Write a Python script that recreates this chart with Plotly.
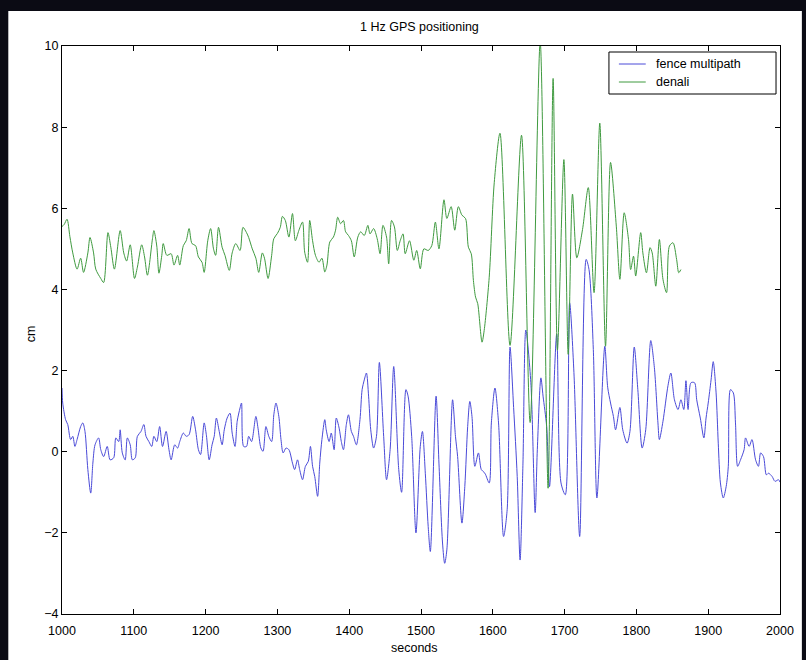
import plotly.graph_objects as go

# ---- data ----
denali_t = [1000, 1003, 1007, 1011, 1015, 1021, 1026, 1030, 1036, 1039, 1044, 1047, 1054, 1058, 1064, 1068,
            1073, 1081, 1086, 1090, 1095, 1101, 1105, 1111, 1115, 1119, 1126, 1128, 1132, 1135, 1139, 1141,
            1146, 1152, 1156, 1161, 1164, 1169, 1173, 1177, 1181, 1186, 1190, 1195, 1198, 1203, 1207, 1211,
            1214, 1218, 1223, 1227, 1233, 1237, 1242, 1248, 1252, 1257, 1260, 1265, 1270, 1274, 1279, 1282,
            1287, 1292, 1295, 1300, 1304, 1307, 1311, 1316, 1321, 1325, 1330, 1335, 1338, 1342, 1345, 1349,
            1353, 1358, 1362, 1366, 1369, 1373, 1378, 1381, 1384, 1388, 1392, 1395, 1399, 1403, 1407, 1412,
            1416, 1421, 1426, 1429, 1434, 1439, 1443, 1447, 1452, 1455, 1459, 1463, 1467, 1471, 1475, 1478,
            1484, 1490, 1494, 1499, 1504, 1510, 1515, 1520, 1525, 1532, 1536, 1542, 1547, 1552, 1557, 1562,
            1566, 1570, 1573, 1576, 1579, 1585, 1588, 1595, 1602, 1610, 1624, 1640, 1652, 1666, 1677, 1684,
            1690, 1699, 1705, 1711, 1717, 1725, 1733, 1741, 1749, 1757, 1764, 1772, 1777, 1783, 1789, 1792,
            1796, 1799, 1806, 1809, 1814, 1819, 1822, 1827, 1832, 1837, 1842, 1846, 1851, 1856, 1859, 1862]
denali_cm = [5.55, 5.6, 5.73, 5.3, 4.9, 4.5, 4.77, 4.42, 4.9, 5.28, 4.9, 4.5, 4.27, 4.17, 5.4, 5.04,
             4.5, 5.45, 4.9, 4.7, 5.1, 4.27, 4.55, 5.1, 4.8, 4.35, 5.25, 5.45, 5.07, 4.4, 4.84, 5.13,
             4.84, 4.88, 4.6, 4.84, 4.6, 5.08, 5.2, 5.5, 5.13, 5.08, 4.8, 4.67, 4.42, 5.2, 5.5, 5.0,
             4.84, 5.53, 5.04, 4.84, 4.47, 4.9, 5.13, 4.96, 5.53, 5.4, 5.28, 5.0, 4.77, 4.42, 4.9, 4.77,
             4.27, 4.84, 5.25, 5.38, 5.53, 5.8, 5.7, 5.29, 5.87, 5.2, 5.46, 5.66, 4.92, 4.67, 5.7, 5.2,
             4.84, 4.67, 4.77, 4.43, 4.6, 5.17, 5.29, 5.46, 5.78, 5.62, 5.7, 5.42, 5.33, 5.2, 4.8, 5.29,
             5.42, 5.33, 5.58, 5.37, 5.5, 5.25, 4.88, 5.58, 5.29, 4.63, 5.7, 5.54, 4.96, 5.2, 5.37, 4.88,
             5.2, 4.72, 4.96, 4.51, 5.0, 4.96, 5.08, 5.66, 5.0, 6.21, 5.75, 6.04, 5.46, 6.04, 5.83, 5.75,
             5.04, 4.88, 4.22, 3.81, 3.65, 2.7, 2.99, 4.3, 6.63, 7.85, 2.62, 7.8, 0.72, 10.1, -0.9, 9.2,
             2.5, 7.2, 2.4, 6.35, 4.78, 5.48, 6.51, 3.92, 8.1, 2.6, 7.13, 5.56, 4.25, 5.89, 5.23, 4.49,
             4.82, 4.33, 5.4, 4.9, 4.41, 5.03, 4.9, 4.08, 5.23, 4.25, 3.92, 5.07, 5.15, 4.74, 4.41, 4.49]

fence_t = [1000, 1001, 1005, 1008, 1012, 1015, 1018, 1021, 1026, 1029, 1032, 1036, 1040, 1043, 1046, 1051,
           1054, 1058, 1063, 1067, 1072, 1075, 1079, 1081, 1084, 1088, 1091, 1095, 1098, 1102, 1105, 1110,
           1114, 1117, 1121, 1125, 1128, 1132, 1136, 1140, 1145, 1149, 1152, 1157, 1161, 1164, 1169, 1173,
           1177, 1182, 1186, 1190, 1193, 1198, 1201, 1205, 1209, 1212, 1215, 1219, 1223, 1226, 1230, 1234,
           1237, 1241, 1244, 1248, 1250, 1253, 1257, 1260, 1264, 1270, 1273, 1277, 1280, 1284, 1288, 1292,
           1295, 1298, 1302, 1305, 1308, 1312, 1316, 1321, 1324, 1328, 1331, 1335, 1339, 1343, 1346, 1349,
           1352, 1356, 1359, 1362, 1366, 1368, 1372, 1375, 1379, 1382, 1386, 1389, 1392, 1396, 1399, 1403,
           1406, 1410, 1415, 1418, 1421, 1424, 1427, 1430, 1434, 1438, 1442, 1448, 1452, 1457, 1462, 1469,
           1473, 1479, 1482, 1487, 1493, 1499, 1502, 1506, 1510, 1513, 1521, 1525, 1530, 1533, 1536, 1544,
           1548, 1551, 1557, 1561, 1565, 1568, 1571, 1575, 1580, 1584, 1589, 1595, 1598, 1603, 1608, 1615,
           1620, 1624, 1629, 1634, 1638, 1642, 1646, 1653, 1659, 1662, 1667, 1670, 1675, 1679, 1689, 1695,
           1701, 1707, 1713, 1721, 1730, 1734, 1740, 1745, 1756, 1760, 1764, 1768, 1771, 1777, 1781, 1787,
           1791, 1797, 1802, 1808, 1813, 1820, 1825, 1830, 1832, 1837, 1844, 1848, 1853, 1858, 1862, 1866,
           1869, 1872, 1876, 1881, 1884, 1889, 1894, 1897, 1900, 1904, 1907, 1911, 1914, 1917, 1921, 1925,
           1928, 1931, 1935, 1938, 1941, 1945, 1950, 1952, 1957, 1961, 1966, 1970, 1973, 1977, 1981, 1984,
           1989, 1993, 1998, 2000]
fence_cm = [1.57, 1.2, 0.79, 0.67, 0.3, 0.38, 0.13, 0.3, 0.62, 0.71, 0.5, -0.44, -1.02, -0.28, 0.17, 0.34,
            0.05, -0.12, 0.13, -0.2, -0.15, 0.34, 0.25, 0.54, -0.03, -0.2, 0.34, 0.17, -0.2, -0.15, 0.38, 0.5,
            0.67, 0.38, 0.25, 0.13, 0.38, 0.25, 0.62, 0.13, 0.5, 0.05, -0.2, 0.17, 0.09, 0.25, 0.46, 0.38,
            0.42, 0.87, 0.54, 0.05, -0.07, 0.71, 0.42, -0.2, 0.17, 0.38, 0.83, 0.5, 0.17, 0.54, 0.83, 0.95,
            0.46, 0.13, 0.75, 1.08, 1.2, 0.13, 0.13, 0.38, 0.25, 0.87, 0.58, 0.09, 0.01, 0.62, 0.38, 0.25,
            0.91, 1.2, 0.87, 0.3, -0.03, 0.09, 0.05, -0.28, -0.44, -0.2, -0.44, -0.69, -0.36, -0.24, 0.13, -0.36,
            -0.61, -1.1, -0.28, 0.3, 0.79, 0.54, 0.25, 0.46, 0.05, 0.83, 0.58, 0.25, 0.05, 0.67, 0.91, 0.5,
            0.38, 0.17, 0.79, 1.53, 1.77, 1.94, 1.37, 0.54, 0.09, 0.38, 2.2, 0.38, -0.69, 0.05, 2.1, -0.44,
            -1.0, 1.53, 1.37, 0.38, -2.0, 0.13, 0.5, -0.53, -1.84, -2.46, 1.37, -0.28, -2.25, -2.75, -2.42, 1.28,
            0.38, -0.12, -1.76, -0.86, 0.62, 1.24, 0.87, -0.36, -0.03, -0.44, -0.53, -0.77, 0.71, 1.57, 0.71, -2.09,
            -1.43, 2.58, 1.09, -0.61, -2.67, -0.28, 3.0, 1.7, -1.5, 0.05, 1.82, 1.37, 0.62, -0.86, 2.9, -0.77,
            -1.06, 3.67, 1.95, -2.09, 4.74, 4.49, 2.52, -1.14, 2.6, 1.59, 1.2, 0.87, 0.54, 1.09, 0.54, 0.21,
            0.5, 2.58, 1.53, 0.09, 0.54, 2.74, 2.08, 0.71, 0.3, 0.75, 1.63, 1.94, 1.28, 1.04, 1.28, 1.04,
            1.75, 1.04, 1.7, 1.7, 1.28, 0.83, 0.34, 0.83, 1.2, 1.77, 2.22, 1.45, 0.21, -0.77, -1.14, -0.86,
            -0.36, 1.53, 1.45, 0.71, -0.36, -0.2, 0.05, 0.34, 0.13, 0.3, -0.2, -0.36, -0.03, -0.12, -0.57, -0.53,
            -0.61, -0.73, -0.69, -0.75]

series_names = ["fence multipath", "denali"]
series_colors = ["#4a4ad8", "#3f9a3f"]
x_ticks = [1000, 1100, 1200, 1300, 1400, 1500, 1600, 1700, 1800, 1900, 2000]
y_ticks = [-4, -2, 0, 2, 4, 6, 8, 10]

FONT = "Liberation Sans, Arial, Helvetica, sans-serif"
FS = 12.5

fig = go.Figure()
for t, v, nm, col in [(fence_t, fence_cm, series_names[0], series_colors[0]),
                      (denali_t, denali_cm, series_names[1], series_colors[1])]:
    fig.add_trace(go.Scatter(x=t, y=v, mode="lines", name=nm, showlegend=False,
                             line=dict(color=col, width=1, shape="spline", smoothing=0.8)))

W, H = 806, 660
L, R, T, B = 62, 22, 46, 46
pw, ph = W - L - R, H - T - B


def px(xp):
    return (xp - L) / pw


def py(yp):
    return (H - B - yp) / ph


axis_common = dict(showline=True, linecolor="black", linewidth=1, mirror="ticks",
                   ticks="inside", ticklen=5, tickcolor="black", showgrid=False,
                   zeroline=False, tickfont=dict(family=FONT, size=FS, color="black"))

shapes = [
    # white figure area over the dark page background
    dict(type="rect", xref="paper", yref="paper", layer="below",
         x0=px(8), x1=px(806), y0=py(660), y1=py(11),
         fillcolor="white", line=dict(width=0)),
    # legend box
    dict(type="rect", xref="paper", yref="paper", layer="above",
         x0=px(612), x1=px(780), y0=py(94), y1=py(52),
         fillcolor="white", line=dict(color="black", width=1)),
]
annotations = [
    dict(text="1 Hz GPS positioning", xref="paper", yref="paper",
         x=px(421), y=py(27), showarrow=False,
         font=dict(family=FONT, size=FS, color="black"), xanchor="center", yanchor="middle"),
    dict(text="cm", xref="paper", yref="paper", x=px(31), y=py(334),
         showarrow=False, textangle=-90,
         font=dict(family=FONT, size=FS, color="black"), xanchor="center", yanchor="middle"),
    dict(text="seconds", xref="paper", yref="paper", x=px(416), y=py(648),
         showarrow=False,
         font=dict(family=FONT, size=FS, color="black"), xanchor="center", yanchor="middle"),
]
legend_rows_y = [64, 82]
for nm, col, ry in zip(series_names, series_colors, legend_rows_y):
    shapes.append(dict(type="line", xref="paper", yref="paper", layer="above",
                       x0=px(622), x1=px(649), y0=py(ry), y1=py(ry),
                       line=dict(color=col, width=1)))
    annotations.append(dict(text=nm, xref="paper", yref="paper", x=px(657), y=py(ry),
                            showarrow=False, xanchor="left", yanchor="middle",
                            font=dict(family=FONT, size=FS, color="black")))

fig.update_layout(
    width=W, height=H,
    margin=dict(l=L, r=R, t=T, b=B),
    paper_bgcolor="#0b0b14",
    plot_bgcolor="white",
    showlegend=False,
    xaxis=dict(range=[1000, 2000], tickvals=x_ticks, ticklabelstandoff=5, **axis_common),
    yaxis=dict(range=[-4, 10], tickvals=y_ticks, **axis_common),
    shapes=shapes,
    annotations=annotations,
)

fig.write_html("out.html",
               config={"displayModeBar": False},
               post_script="document.body.style.margin='0';document.body.style.background='#0b0b14';")
